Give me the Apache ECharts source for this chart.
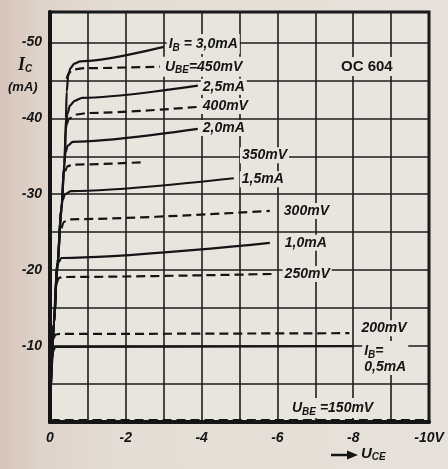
<!DOCTYPE html>
<html>
<head>
<meta charset="utf-8">
<script src="https://cdn.jsdelivr.net/npm/echarts@6/dist/echarts.min.js"></script>
<style>
  html, body { margin: 0; padding: 0; }
  body {
    width: 448px; height: 469px; overflow: hidden;
    background: linear-gradient(90deg, #d7c4ba 0px, #dfd3ca 40px, #e4ddd5 120px, #e6e1da 100%);
  }
  #chart { width: 448px; height: 469px; }
</style>
</head>
<body>
<div id="chart"></div>
<script>
// OC 604 output characteristics: collector current I_C (mA) versus
// collector-emitter voltage U_CE (V). Values are in the printed sign
// convention (both negative); each point is [U_CE, I_C].

// Constant base current curves (solid)
const ib30 = [[0, 0], [-0.05, -8], [-0.1, -13], [-0.2, -21], [-0.3, -28], [-0.38, -34], [-0.42, -40], [-0.44, -43.5], [-0.48, -45.6], [-0.54, -46.6], [-0.64, -47.2], [-0.8, -47.5], [-3.0, -49.4]];
const ib25 = [[0, 0], [-0.05, -8], [-0.1, -13], [-0.2, -21], [-0.3, -28], [-0.38, -34], [-0.42, -38.5], [-0.46, -40.6], [-0.53, -41.7], [-0.65, -42.3], [-0.85, -42.7], [-3.9, -44.3]];
const ib20 = [[0, 0], [-0.05, -8], [-0.1, -13], [-0.2, -21], [-0.3, -28], [-0.37, -33.5], [-0.41, -35.5], [-0.47, -36.4], [-0.6, -36.9], [-3.9, -38.6]];
const ib15 = [[0, 0], [-0.05, -8], [-0.1, -13], [-0.2, -21], [-0.28, -27], [-0.33, -29.2], [-0.4, -30.0], [-0.55, -30.4], [-4.85, -32.1]];
const ib10 = [[0, 0], [-0.05, -8], [-0.1, -13], [-0.17, -19.5], [-0.22, -21.0], [-0.3, -21.6], [-5.8, -23.6]];
const ib05 = [[0, 0], [-0.04, -7], [-0.08, -9.3], [-0.14, -9.9], [-8.0, -10.0]];

// Constant base-emitter voltage curves (dashed)
const ube450 = [[-0.44, -45.2], [-0.5, -46.0], [-0.6, -46.4], [-0.9, -46.6], [-2.9, -46.8]];
const ube400 = [[-0.44, -39.2], [-0.52, -40.0], [-0.7, -40.5], [-1.0, -40.7], [-3.9, -41.5]];
const ube350 = [[-0.4, -33.0], [-0.47, -33.7], [-0.6, -33.9], [-2.4, -34.2]];
const ube300 = [[-0.3, -25.5], [-0.38, -26.4], [-0.5, -26.7], [-5.8, -27.8]];
const ube250 = [[-0.17, -18.2], [-0.24, -19.0], [-0.35, -19.1], [-5.9, -19.5]];
const ube200 = [[-0.09, -11.0], [-0.15, -11.5], [-0.25, -11.6], [-7.9, -11.7]];
const ube150 = [[-0.02, -0.2], [-0.1, -0.25], [-10, -0.25]];

// Tick labels
const uTickValues = [0, -2, -4, -6, -8, -10];
const uTickLabels = ['0', '-2', '-4', '-6', '-8', '-10V'];
const iTickValues = [-10, -20, -30, -40, -50];
const iTickLabels = ['-10', '-20', '-30', '-40', '-50'];

const INK = '#151515';
const PLOT_BG = '#e8e5df';
const FONT = "'Liberation Sans', Arial, sans-serif";

const textRich = {
  t: { fontFamily: FONT, fontStyle: 'italic', fontWeight: 'bold', fontSize: 14, color: INK },
  s: { fontFamily: FONT, fontStyle: 'italic', fontWeight: 'bold', fontSize: 10, color: INK,
       verticalAlign: 'top', padding: [8, 0, 0, 0] }
};

const curves = [
  { pts: ib30,   dashed: false, label: '{t|I}{s|B}{t| = 3,0mA}', offset: [0, -3] },
  { pts: ube450, dashed: true,  label: '{t|U}{s|BE}{t|=450mV}', offset: [0, 0] },
  { pts: ib25,   dashed: false, label: '{t|2,5mA}', offset: [0, 1] },
  { pts: ube400, dashed: true,  label: '{t|400mV}', offset: [0, -1] },
  { pts: ib20,   dashed: false, label: '{t|2,0mA}', offset: [0, -1] },
  { pts: ube350, dashed: true,  label: '{t|350mV}', offset: [96, -7] },
  { pts: ib15,   dashed: false, label: '{t|1,5mA}', offset: [3, 1] },
  { pts: ube300, dashed: true,  label: '{t|300mV}', offset: [9, 0] },
  { pts: ib10,   dashed: false, label: '{t|1,0mA}', offset: [10, 0] },
  { pts: ube250, dashed: true,  label: '{t|250mV}', offset: [6, 0] },
  { pts: ube200, dashed: true,  label: '{t|200mV}', offset: [7, -5] },
  { pts: ib05,   dashed: false, label: '{t|I}{s|B}{t|=}\n{t|0,5mA}', offset: [6, 12] },
  { pts: ube150, dashed: true,  label: '{t|U}{s|BE}{t| =150mV}', offset: [-142, -12] }
];

// Plot magnitudes so that 0 sits at the lower left corner
const toPlot = pts => pts.map(p => [-p[0], -p[1]]);

const series = curves.map(c => ({
  type: 'line',
  data: toPlot(c.pts),
  symbol: 'none',
  smooth: 0.3,
  smoothMonotone: 'x',
  silent: true,
  z: 3,
  lineStyle: { color: INK, width: 2.2, type: c.dashed ? [9, 5] : 'solid', cap: 'butt' },
  endLabel: {
    show: true,
    formatter: () => c.label,
    rich: textRich,
    backgroundColor: PLOT_BG,
    padding: [1, 2, 1, 2],
    distance: 3,
    offset: c.offset
  },
  animation: false
}));

const chart = echarts.init(document.getElementById('chart'), null, { renderer: 'canvas' });

chart.setOption({
  animation: false,
  grid: {
    left: 50, right: 19, top: 12, bottom: 47,
    show: true, borderColor: INK, borderWidth: 3, backgroundColor: PLOT_BG
  },
  xAxis: {
    type: 'value', min: 0, max: 10, interval: 1,
    axisLine: { show: true, onZero: false, lineStyle: { color: INK, width: 4 } },
    axisTick: { show: false },
    splitLine: { show: true, lineStyle: { color: '#1d1d1d', width: 1.6 } },
    axisLabel: {
      margin: 9, color: INK, fontFamily: FONT, fontStyle: 'italic', fontWeight: 'bold', fontSize: 14,
      showMinLabel: true, showMaxLabel: true,
      formatter: v => {
        const k = uTickValues.indexOf(-v);
        return k >= 0 ? uTickLabels[k] : '';
      }
    }
  },
  yAxis: {
    type: 'value', min: 0, max: 54, interval: 5,
    axisLine: { show: true, onZero: false, lineStyle: { color: INK, width: 4 } },
    axisTick: { show: false },
    splitLine: { show: true, lineStyle: { color: '#1d1d1d', width: 1.6 } },
    axisLabel: {
      margin: 8, color: INK, fontFamily: FONT, fontStyle: 'italic', fontWeight: 'bold', fontSize: 14,
      formatter: v => {
        const k = iTickValues.indexOf(-v);
        return k >= 0 ? iTickLabels[k] : '';
      }
    }
  },
  series: series,
  graphic: [
    {
      type: 'text', left: 18, top: 56, z: 10,
      style: {
        text: '{i|I}{s|C}',
        rich: {
          i: { fontFamily: "'Liberation Serif', serif", fontStyle: 'italic', fontWeight: 'bold', fontSize: 18, fill: INK },
          s: { fontFamily: FONT, fontStyle: 'italic', fontWeight: 'bold', fontSize: 10, fill: INK, verticalAlign: 'top', padding: [9, 0, 0, 0] }
        }
      }
    },
    {
      type: 'text', left: 8, top: 81, z: 10,
      style: { text: '(mA)', font: "italic bold 13px 'Liberation Sans', Arial, sans-serif", fill: INK }
    },
    {
      type: 'text', left: 339, top: 57, z: 10,
      style: {
        text: 'OC 604', font: "bold 15px 'Liberation Sans', Arial, sans-serif", fill: INK,
        backgroundColor: PLOT_BG, padding: [2, 2, 2, 2]
      }
    },
    {
      type: 'line', z: 10,
      shape: { x1: 331, y1: 455, x2: 350, y2: 455 },
      style: { stroke: INK, lineWidth: 2.5 }
    },
    {
      type: 'polygon', z: 10,
      shape: { points: [[347, 450.5], [358, 455], [347, 459.5]] },
      style: { fill: INK }
    },
    {
      type: 'text', left: 361, top: 446, z: 10,
      style: {
        text: '{t|U}{s|CE}',
        rich: {
          t: { fontFamily: FONT, fontStyle: 'italic', fontWeight: 'bold', fontSize: 15, fill: INK },
          s: { fontFamily: FONT, fontStyle: 'italic', fontWeight: 'bold', fontSize: 10, fill: INK, verticalAlign: 'top', padding: [8, 0, 0, 0] }
        }
      }
    }
  ]
});
</script>
</body>
</html>
